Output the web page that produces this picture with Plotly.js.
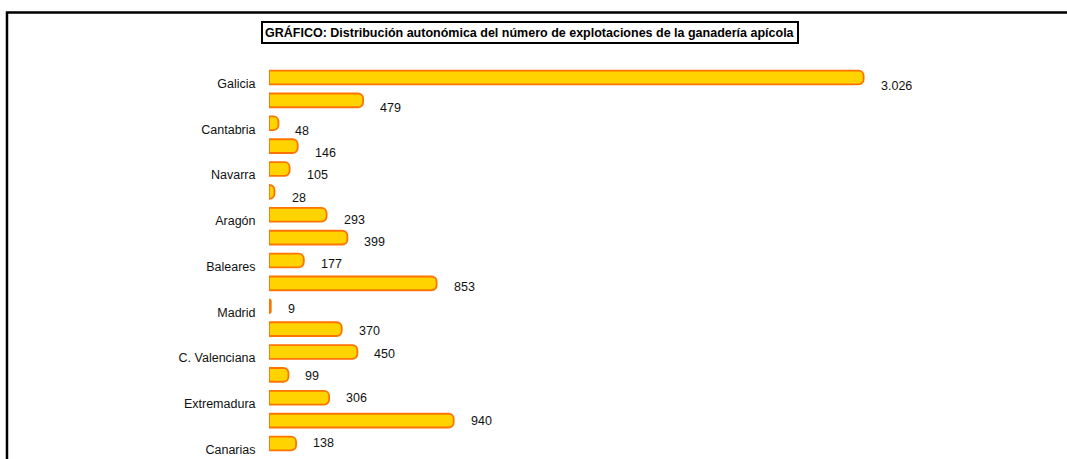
<!DOCTYPE html>
<html>
<head>
<meta charset="utf-8">
<script src="https://cdn.plot.ly/plotly-3.0.1.min.js"></script>
<style>
  html, body { margin: 0; padding: 0; background: #fff; }
  #chart { width: 1067px; height: 459px; }
</style>
</head>
<body>
<div id="chart"></div>
<script>
// Comunidades autónomas (orden del gráfico, de arriba abajo)
const categories = [
  "Galicia", "P. de Asturias", "Cantabria", "País Vasco", "Navarra", "La Rioja",
  "Aragón", "Cataluña", "Baleares", "Castilla y León", "Madrid", "Castilla-La Mancha",
  "C. Valenciana", "R. de Murcia", "Extremadura", "Andalucía", "Canarias"
];
// Número de explotaciones apícolas
const explotaciones = [3026, 479, 48, 146, 105, 28, 293, 399, 177, 853, 9, 370, 450, 99, 306, 940, 138];
// Etiquetas visibles del eje de categorías (una de cada dos)
const tickLabels = ["Galicia", "Cantabria", "Navarra", "Aragón", "Baleares", "Madrid", "C. Valenciana", "Extremadura", "Canarias"];
const titleText = "GRÁFICO: Distribución autonómica del número de explotaciones de la ganadería apícola";

function fmtES(v) {
  return String(v).replace(/\B(?=(\d{3})+(?!\d))/g, ".");
}

const FONT = "Liberation Sans, Arial, sans-serif";

const bars = {
  type: "bar",
  orientation: "h",
  x: explotaciones,
  y: categories,
  width: 0.6,
  marker: {
    color: "#FFD300",
    line: { color: "#FF7400", width: 1.8 },
    cornerradius: 5
  },
  hoverinfo: "x+y",
  showlegend: false
};

const valueAnnotations = explotaciones.map((v, i) => ({
  xref: "x", yref: "y2",
  x: v, y: i,
  text: fmtES(v),
  showarrow: false,
  xanchor: "left", yanchor: "middle",
  xshift: 15,
  font: { family: FONT, size: 12.5, color: "#111111" }
}));

const layout = {
  width: 1067, height: 459,
  margin: { l: 269, r: 10, t: 60, b: 0, pad: 0 },
  paper_bgcolor: "#ffffff",
  plot_bgcolor: "#ffffff",
  showlegend: false,
  xaxis: {
    range: [0, 4010],
    visible: false,
    showgrid: false, zeroline: false
  },
  yaxis: {
    type: "category",
    categoryorder: "array",
    categoryarray: categories,
    range: [16.678, -0.765],
    tickmode: "array",
    tickvals: tickLabels,
    ticktext: tickLabels,
    ticks: "outside",
    ticklen: 10,
    tickcolor: "rgba(0,0,0,0)",
    ticklabelshift: -6,
    showgrid: false, zeroline: false, showline: false,
    tickfont: { family: FONT, size: 12.5, color: "#111111" }
  },
  yaxis2: {
    type: "linear",
    overlaying: "y",
    anchor: "x",
    range: [16.718, -1.165],
    visible: false,
    showgrid: false, zeroline: false
  },
  annotations: [
    {
      xref: "paper", yref: "paper",
      x: 0.331, y: 1.070,
      xanchor: "center", yanchor: "middle",
      text: "<b>" + titleText + "</b>",
      showarrow: false,
      bordercolor: "#000000",
      borderwidth: 2,
      borderpad: 2,
      bgcolor: "#ffffff",
      font: { family: FONT, size: 12.5, color: "#000000" }
    }
  ].concat(valueAnnotations),
  shapes: [
    {
      type: "rect", xref: "paper", yref: "paper",
      x0: -0.3325, x1: 1.03, y0: -0.05, y1: 1.119,
      line: { color: "#000000", width: 2.5 },
      fillcolor: "rgba(0,0,0,0)",
      layer: "above"
    }
  ]
};

Plotly.newPlot("chart", [bars], layout, { displayModeBar: false, staticPlot: true });
</script>
</body>
</html>
